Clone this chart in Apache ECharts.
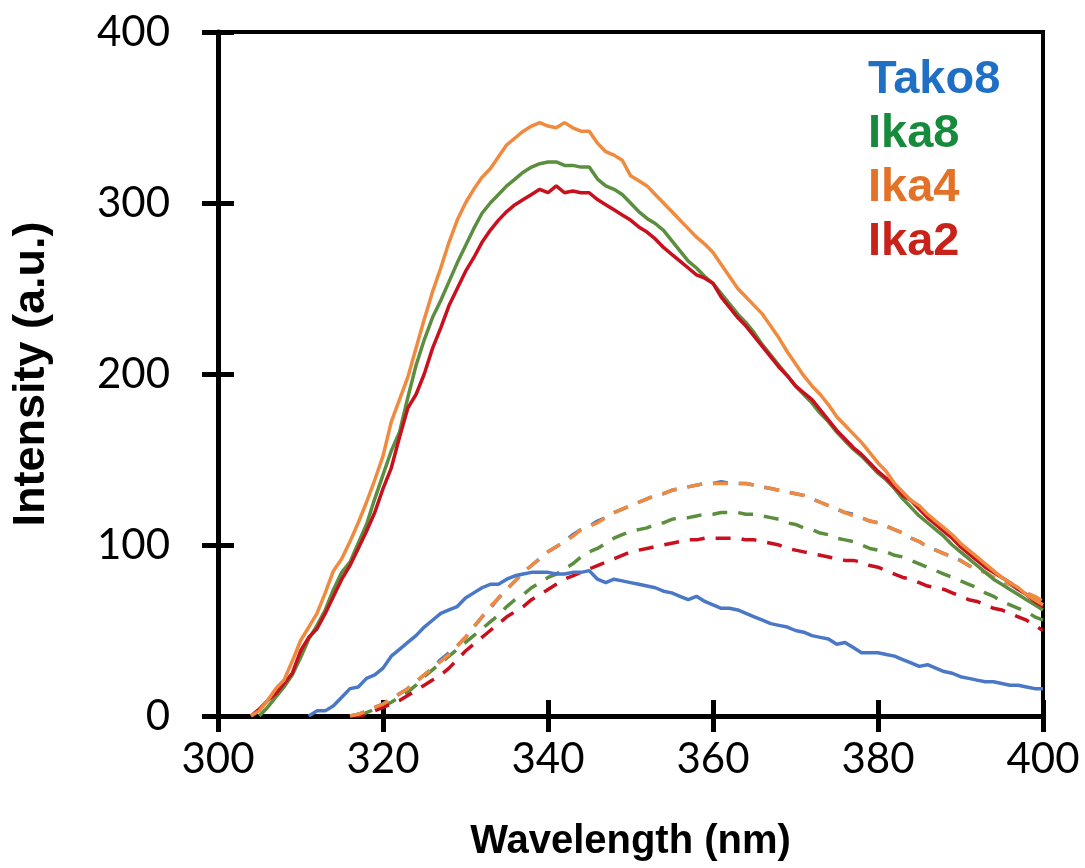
<!DOCTYPE html>
<html>
<head>
<meta charset="utf-8">
<script src="https://cdn.jsdelivr.net/npm/echarts@6/dist/echarts.min.js"></script>
<style>html,body{margin:0;padding:0;background:#fff;}#chart{width:1085px;height:868px;}</style>
</head>
<body>
<div id="chart"></div>
<script>
// Wavelength (nm)
const wavelength = [304,305,306,307,308,309,310,311,312,313,314,315,316,317,318,319,320,321,322,323,324,325,326,327,328,329,330,331,332,333,334,335,336,337,338,339,340,341,342,343,344,345,346,347,348,349,350,351,352,353,354,355,356,357,358,359,360,361,362,363,364,365,366,367,368,369,370,371,372,373,374,375,376,377,378,379,380,381,382,383,384,385,386,387,388,389,390,391,392,393,394,395,396,397,398,399,400];

// Solid spectra
const tako8 = [null,null,null,null,null,null,null,0,3,3,6,11,16,17,22,24,28,35,39,43,47,52,56,60,62,64,69,72,75,77,77,80,82,83,84,84,84,83,83,84,84,85,80,78,80,79,78,77,76,75,73,72,70,68,70,67,65,63,63,62,60,58,56,54,53,52,50,49,47,46,45,42,43,40,37,37,37,36,35,33,31,29,30,28,26,25,23,22,21,20,20,19,18,18,17,16,16];
const ika8 = [null,0,5,11,17,24,34,45,53,62,74,84,90,101,112,127,141,155,166,186,205,220,233,243,254,265,275,285,294,300,305,310,314,318,321,323,324,324,322,322,321,321,314,310,308,305,300,295,291,288,284,278,272,266,262,257,253,247,241,235,230,224,217,211,205,199,193,188,183,177,172,166,161,156,152,147,142,138,133,127,122,117,113,109,105,100,96,92,88,84,80,77,74,71,68,65,62];
const ika4 = [0,3,9,16,21,32,44,52,60,72,85,92,102,113,125,138,152,172,185,198,215,232,248,262,277,290,300,308,315,320,327,334,338,342,345,347,345,344,347,344,342,342,335,330,328,325,316,313,310,305,300,295,290,285,280,276,271,264,257,250,245,240,235,228,221,213,206,199,193,188,182,175,170,165,160,154,148,143,136,131,126,123,118,114,110,106,101,97,93,89,85,81,78,75,71,68,65];
const ika2 = [0,4,9,13,19,25,38,46,51,60,70,80,88,98,108,119,133,145,163,180,188,200,215,227,240,250,260,268,277,284,290,295,299,302,305,308,306,310,306,307,306,306,302,299,296,293,290,286,283,279,274,270,266,262,258,256,253,245,239,233,228,222,216,210,204,199,193,189,185,179,173,167,162,157,153,148,143,139,134,129,126,121,116,112,108,104,99,95,91,87,84,81,78,74,71,67,64];

// Dashed spectra
const tako8d = [null,null,null,null,null,null,null,null,null,null,null,null,0,1,3,5,7,10,13,16,20,24,28,33,37,41,46,52,58,63,69,74,79,84,88,92,96,99,102,106,109,111,114,116,119,121,123,125,127,129,130,132,133,134,135,136,136,137,136,136,136,135,134,133,132,131,130,129,127,125,123,121,119,118,116,114,113,111,109,107,104,102,99,97,95,93,91,88,86,84,81,79,77,74,72,69,66];
const ika8d = [null,null,null,null,null,null,null,null,null,null,null,null,null,0,2,4,6,8,11,14,18,23,27,31,35,39,43,47,51,55,59,64,68,71,75,78,81,83,86,89,93,96,98,101,104,106,108,109,110,112,113,115,116,116,117,118,118,119,119,119,118,118,117,116,115,113,112,110,109,107,106,104,103,102,100,98,97,96,94,93,91,89,87,85,83,81,79,77,75,72,70,67,65,63,61,58,56];
const ika4d = [null,null,null,null,null,null,null,null,null,null,null,null,0,1,3,5,7,10,13,16,20,24,28,32,36,41,46,52,58,64,69,74,79,84,88,92,96,99,102,105,109,111,113,116,119,121,123,125,127,129,130,132,133,134,135,136,136,136,136,136,136,135,134,133,132,131,130,129,127,125,123,121,119,117,116,114,113,111,109,107,104,102,99,97,95,93,91,88,86,84,81,79,77,75,72,70,67];
const ika2d = [null,null,null,null,null,null,null,null,null,null,null,null,0,0,1,3,5,7,9,12,15,18,21,24,28,33,38,42,46,50,54,58,61,64,68,71,74,77,80,82,84,86,88,90,92,94,96,97,98,99,100,101,102,103,103,104,104,104,104,104,103,103,102,101,100,98,97,96,95,94,93,92,91,91,90,88,87,85,83,81,80,78,76,75,74,72,70,68,67,65,63,62,60,58,56,53,50];

const xTicks = [300, 320, 340, 360, 380, 400];
const yTicks = [0, 100, 200, 300, 400];
const legendNames = ['Tako8', 'Ika8', 'Ika4', 'Ika2'];

const lineColors = { Tako8: '#4A78C6', Ika8: '#5B8E3F', Ika4: '#F08A3E', Ika2: '#C8101E' };
const textColors = { Tako8: '#1F6FC5', Ika8: '#168B3C', Ika4: '#E37228', Ika2: '#C9221B' };

function pairs(vals) { return wavelength.map((w, i) => [w, vals[i]]); }

function solid(name, vals) {
  return { name: name, type: 'line', data: pairs(vals), showSymbol: false, symbol: 'none',
    lineStyle: { color: lineColors[name], width: 3.5 }, itemStyle: { color: lineColors[name] }, z: 3 };
}
function dashed(name, vals) {
  return { name: name + ' (dashed)', type: 'line', data: pairs(vals), showSymbol: false, symbol: 'none',
    lineStyle: { color: lineColors[name], width: 3.5, type: [15, 11] }, itemStyle: { color: lineColors[name] }, z: 2 };
}

const chart = echarts.init(document.getElementById('chart'), null, { renderer: 'canvas' });
const labelFont = { fontFamily: 'Lato, "Open Sans", sans-serif', fontSize: 42, color: '#000' };
const nameFont = { fontFamily: '"Liberation Sans", Arial, sans-serif', fontWeight: 'bold', fontSize: 40, color: '#000' };

chart.setOption({
  animation: false,
  backgroundColor: '#fff',
  grid: { left: 218, right: 42, top: 32, bottom: 152, show: true, borderColor: '#000', borderWidth: 4, backgroundColor: 'transparent' },
  legend: {
    orient: 'vertical', left: 863, top: 54, padding: 0, itemGap: 1,
    icon: 'none', itemWidth: 0, itemHeight: 0, selectedMode: false,
    data: legendNames.map(n => ({ name: n, textStyle: { color: textColors[n] } })),
    textStyle: { fontFamily: '"Liberation Sans", Arial, sans-serif', fontWeight: 'bold', fontSize: 47, lineHeight: 53, padding: 0 }
  },
  xAxis: [
    { type: 'value', min: 300, max: 400, interval: 20, position: 'bottom',
      name: 'Wavelength (nm)', nameLocation: 'middle', nameGap: 106, nameTextStyle: nameFont,
      axisLine: { show: true, lineStyle: { color: '#000', width: 5 } },
      axisTick: { show: true, length: 16, lineStyle: { color: '#000', width: 5 } },
      axisLabel: Object.assign({ margin: 22, formatter: v => xTicks.includes(v) ? String(v) : '' }, labelFont),
      splitLine: { show: false } },
    { type: 'value', min: 300, max: 400, interval: 20, position: 'bottom',
      axisLine: { show: false }, axisTick: { show: true, inside: true, length: 16, lineStyle: { color: '#000', width: 5 } },
      axisLabel: { show: false }, splitLine: { show: false } }
  ],
  yAxis: [
    { type: 'value', min: 0, max: 400, interval: 100, position: 'left',
      name: 'Intensity (a.u.)', nameLocation: 'middle', nameGap: 164, nameTextStyle: Object.assign({}, nameFont, { fontSize: 45 }),
      axisLine: { show: true, lineStyle: { color: '#000', width: 5 } },
      axisTick: { show: true, length: 16, lineStyle: { color: '#000', width: 5 } },
      axisLabel: Object.assign({ margin: 48, formatter: v => yTicks.includes(v) ? String(v) : '' }, labelFont),
      splitLine: { show: false } },
    { type: 'value', min: 0, max: 400, interval: 100, position: 'left',
      axisLine: { show: false }, axisTick: { show: true, inside: true, length: 16, lineStyle: { color: '#000', width: 5 } },
      axisLabel: { show: false }, splitLine: { show: false } }
  ],
  series: [
    dashed('Tako8', tako8d), dashed('Ika8', ika8d), dashed('Ika2', ika2d), dashed('Ika4', ika4d),
    solid('Tako8', tako8), solid('Ika8', ika8), solid('Ika2', ika2), solid('Ika4', ika4)
  ]
});
</script>
</body>
</html>
